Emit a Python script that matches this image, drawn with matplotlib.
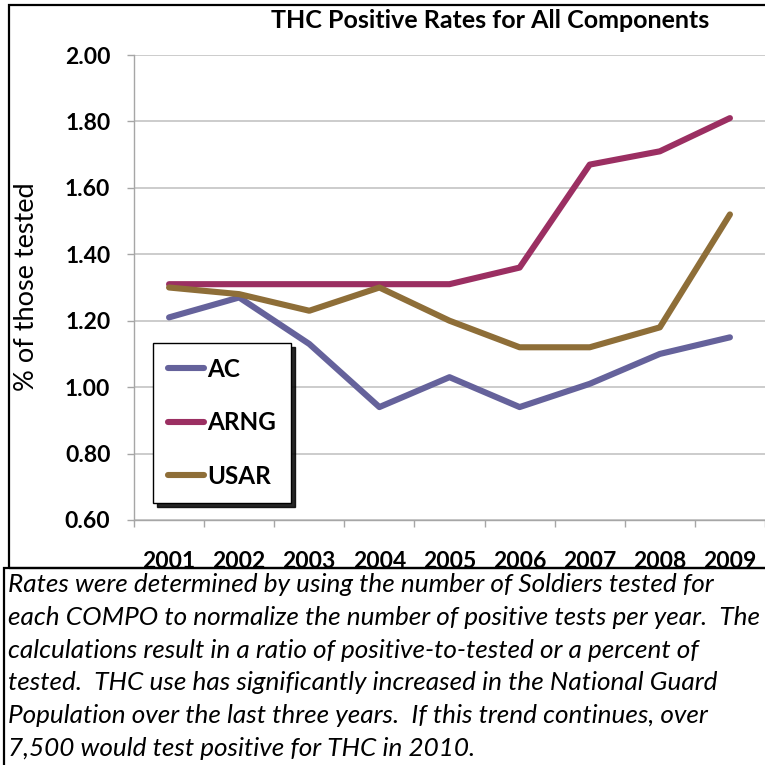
import numpy as np
import matplotlib
matplotlib.use('Agg')
import matplotlib.pyplot as plt
from matplotlib.patches import Rectangle
from matplotlib.ticker import FormatStrFormatter

plt.rcParams['font.family'] = ['Lato', 'DejaVu Sans']

# rates by component, % of those tested
years = ['2001', '2002', '2003', '2004', '2005', '2006', '2007', '2008', '2009']
ac = [1.21, 1.27, 1.13, 0.94, 1.03, 0.94, 1.01, 1.10, 1.15]
arng = [1.31, 1.31, 1.31, 1.31, 1.31, 1.36, 1.67, 1.71, 1.81]
usar = [1.30, 1.28, 1.23, 1.30, 1.20, 1.12, 1.12, 1.18, 1.52]
names = ['AC', 'ARNG', 'USAR']
colors = ['#65629b', '#9b2f62', '#8e6e38']

note = [
    "Rates were determined by using the number of Soldiers tested for",
    "each COMPO to normalize the number of positive tests per year.  The",
    "calculations result in a ratio of positive-to-tested or a percent of",
    "tested.  THC use has significantly increased in the National Guard",
    "Population over the last three years.  If this trend continues, over",
    "7,500 would test positive for THC in 2010.",
]

W = 765.0
fig = plt.figure(figsize=(7.65, 7.65), dpi=100)

# chart frame and note frame
fig.patches.append(Rectangle((9 / W, 1 - 568 / W), 1.0, 563 / W, transform=fig.transFigure,
                             fill=False, edgecolor='black', lw=1.6))
fig.patches.append(Rectangle((4 / W, -0.05), 1.0, 1 - 568 / W + 0.05, transform=fig.transFigure,
                             fill=False, edgecolor='black', lw=1.6))

ax = fig.add_axes([134 / W, 1 - 520 / W, 631 / W, 465 / W])
x = np.arange(len(years))
for vals, name, c in zip([ac, arng, usar], names, colors):
    ax.plot(x, vals, color=c, lw=4.4, label=name,
            solid_capstyle='round', solid_joinstyle='round')

ax.set_xlim(-0.5, -0.5 + 631 / 70.7)
ax.set_ylim(0.6, 2.0)
ax.set_yticks(np.arange(0.6, 2.01, 0.2))
ax.yaxis.set_major_formatter(FormatStrFormatter('%.2f'))
ax.set_xticks(x)
ax.set_xticklabels(years)
ax.set_xticks(np.arange(-0.5, len(years), 1), minor=True)
for lab in ax.get_xticklabels() + ax.get_yticklabels():
    lab.set_fontweight('bold')
    lab.set_fontsize(16.5)
ax.tick_params(axis='x', which='major', length=0, pad=22)
ax.tick_params(axis='x', which='minor', length=5, color='#a6a6a6', width=1)
ax.tick_params(axis='y', length=5, color='#a6a6a6', width=1, pad=12)
ax.grid(axis='y', color='#bebebe', lw=1.1)
ax.set_axisbelow(True)
for s in ['top', 'right']:
    ax.spines[s].set_visible(False)
for s in ['left', 'bottom']:
    ax.spines[s].set_color('#a6a6a6')
    ax.spines[s].set_linewidth(1)

leg = ax.legend(loc='lower left', bbox_to_anchor=(0.030, 0.037), borderaxespad=0,
                fancybox=False, edgecolor='black', framealpha=1,
                shadow={'ox': 3, 'oy': -3, 'color': 'black', 'alpha': 0.85},
                handlelength=1.5, handletextpad=0.1, labelspacing=1.25, borderpad=0.62,
                prop={'weight': 'bold', 'size': 17.5})
leg.get_frame().set_linewidth(1)

fig.text(490 / W, 1 - 21 / W, 'THC Positive Rates for All Components',
         ha='center', va='center', fontsize=18, fontweight='bold')
fig.text(27 / W, 1 - 287 / W, '% of those tested', rotation=90,
         ha='center', va='center', fontsize=19.5)

for i, line in enumerate(note):
    fig.text(8 / W, 1 - (585 + 32.6 * i) / W, line, ha='left', va='center',
             fontsize=18.8, fontstyle='italic')

fig.savefig('out.png', dpi=100)
